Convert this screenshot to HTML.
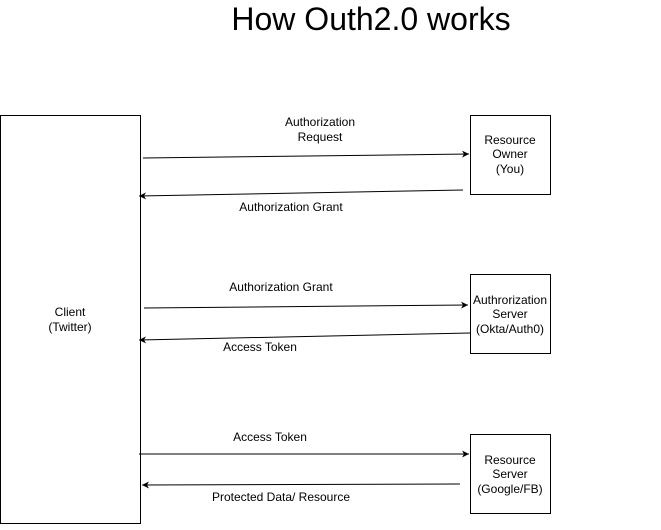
<!DOCTYPE html>
<html><head><style>
body{margin:0;background:#fff;width:661px;height:525px;overflow:hidden}
svg text{font-family:"Liberation Sans",Arial,sans-serif;font-size:12px;fill:#000}
</style></head><body>
<svg width="661" height="525" xmlns="http://www.w3.org/2000/svg">
<defs><marker id="a" markerWidth="8" markerHeight="8" refX="7" refY="4" orient="auto" markerUnits="userSpaceOnUse"><path d="M0,0.5 L7,4 L0,7.5 L2,4 Z" fill="#000"/></marker></defs>
<text x="371" y="30" text-anchor="middle" style="font-size:32px">How Outh2.0 works</text>
<rect x="0.5" y="115.5" width="140" height="408" fill="#fff" stroke="#000"/>
<text x="70" y="316" text-anchor="middle">Client</text>
<text x="70" y="331" text-anchor="middle">(Twitter)</text>
<rect x="470.5" y="115.5" width="80" height="79" fill="#fff" stroke="#000"/>
<text x="510" y="144" text-anchor="middle">Resource</text>
<text x="510" y="158" text-anchor="middle">Owner</text>
<text x="510" y="173" text-anchor="middle">(You)</text>
<rect x="470.5" y="274.5" width="80" height="79" fill="#fff" stroke="#000"/>
<text x="510" y="304" text-anchor="middle">Authrorization</text>
<text x="510" y="318" text-anchor="middle">Server</text>
<text x="510" y="333" text-anchor="middle">(Okta/Auth0)</text>
<rect x="470.5" y="434.5" width="80" height="79" fill="#fff" stroke="#000"/>
<text x="510" y="464" text-anchor="middle">Resource</text>
<text x="510" y="478" text-anchor="middle">Server</text>
<text x="510" y="493" text-anchor="middle">(Google/FB)</text>
<g stroke="#000" stroke-width="1" marker-end="url(#a)">
<line x1="143" y1="158" x2="469" y2="154"/>
<line x1="463" y1="190" x2="139" y2="196"/>
<line x1="144" y1="308" x2="468" y2="305"/>
<line x1="470" y1="333" x2="139" y2="340"/>
<line x1="139" y1="454" x2="469" y2="454"/>
<line x1="460" y1="484" x2="142" y2="485"/>
</g>
<text x="320" y="126" text-anchor="middle">Authorization</text>
<text x="320" y="141" text-anchor="middle">Request</text>
<text x="291" y="211" text-anchor="middle">Authorization Grant</text>
<text x="281" y="291" text-anchor="middle">Authorization Grant</text>
<text x="260" y="351" text-anchor="middle">Access Token</text>
<text x="270" y="441" text-anchor="middle">Access Token</text>
<text x="281" y="501" text-anchor="middle">Protected Data/ Resource</text>
</svg>
</body></html>
